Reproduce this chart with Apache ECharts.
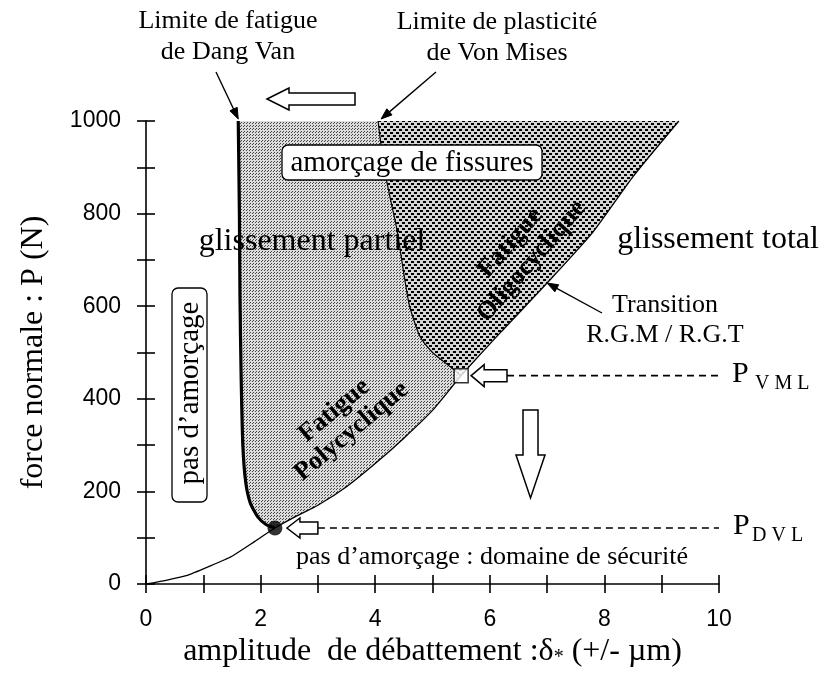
<!DOCTYPE html>
<html><head><meta charset="utf-8">
<script src="https://cdn.jsdelivr.net/npm/echarts@6/dist/echarts.min.js"></script>
<style>html,body{margin:0;padding:0;background:#fff}#c{width:828px;height:689px}</style>
</head><body><div id="c"></div>
<script>
// ---- data ----
const xLabelValues = [0, 2, 4, 6, 8, 10];
const yLabelValues = [0, 200, 400, 600, 800, 1000];
// transition R.G.M / R.G.T (partial slip / gross slip boundary)
const transitionX = [0, 0.35, 0.7, 1.1, 1.5, 1.9, 2.25, 2.6, 3.0, 3.5, 4.0, 4.5, 5.0, 5.5, 6.2, 7.0, 7.8, 8.5, 9.3];
const transitionP = [0, 8, 18, 38, 60, 92, 121, 145, 170, 210, 260, 315, 375, 450, 545, 650, 760, 880, 1000];
// Dang Van fatigue limit
const dangVanX = [2.25, 2.1, 1.95, 1.82, 1.74, 1.69, 1.66, 1.64, 1.63, 1.61];
const dangVanP = [121, 128, 145, 175, 220, 300, 450, 620, 800, 1000];
// Von Mises plasticity limit
const vonMisesX = [5.5, 5.4, 5.2, 5.0, 4.78, 4.6, 4.5, 4.38, 4.2, 4.1, 4.05];
const vonMisesP = [450, 460, 480, 500, 535, 600, 670, 765, 870, 950, 1000];
// characteristic points
const pointDVL = [2.25, 121];
const pointVML = [5.5, 450];
const dashStartDVL = 3.0;
const dashStartVML = 6.3;
const dashEnd = 10;

const SERIF = '"Liberation Serif","Times New Roman",serif';
const SANS = '"Liberation Sans",Arial,sans-serif';

function makePattern(type) {
  const c = document.createElement('canvas');
  const ctx = c.getContext('2d');
  if (type === 'fine') {
    c.width = 3; c.height = 3;
    ctx.fillStyle = '#dcdcdc'; ctx.fillRect(0, 0, 3, 3);
    ctx.fillStyle = '#444'; ctx.fillRect(0, 0, 1, 1); ctx.fillRect(1, 2, 1, 1);
  } else {
    c.width = 6; c.height = 6;
    ctx.fillStyle = '#d4d4d4'; ctx.fillRect(0, 0, 6, 6);
    ctx.fillStyle = '#000'; ctx.fillRect(0, 0, 3, 2); ctx.fillRect(3, 3, 3, 2);
  }
  return { image: c, repeat: 'repeat' };
}
const fineFill = makePattern('fine');
const coarseFill = makePattern('coarse');

function regionPoints(idx) {
  const pts = [];
  if (idx === 0) {
    for (let i = 0; i < dangVanX.length; i++) pts.push([dangVanX[i], dangVanP[i]]);
    for (let i = vonMisesX.length - 1; i >= 0; i--) pts.push([vonMisesX[i], vonMisesP[i]]);
    for (let i = transitionX.length - 1; i >= 0; i--)
      if (transitionX[i] < pointVML[0] && transitionX[i] > pointDVL[0]) pts.push([transitionX[i], transitionP[i]]);
  } else {
    for (let i = 0; i < vonMisesX.length; i++) pts.push([vonMisesX[i], vonMisesP[i]]);
    for (let i = transitionX.length - 1; i >= 0; i--)
      if (transitionX[i] >= pointVML[0]) pts.push([transitionX[i], transitionP[i]]);
  }
  return pts;
}

const chart = echarts.init(document.getElementById('c'), null, { renderer: 'canvas' });

const commonX = { type: 'value', min: 0, max: 10, interval: 1, splitLine: { show: false } };
const commonY = { type: 'value', min: 0, max: 1000, interval: 100, splitLine: { show: false } };
const axLine = { show: true, lineStyle: { color: '#000', width: 1.6 } };

chart.setOption({
  animation: false,
  backgroundColor: '#fff',
  grid: { left: 146, right: 109, top: 121, bottom: 105 },
  xAxis: [
    Object.assign({}, commonX, {
      position: 'bottom',
      axisLine: axLine,
      axisTick: { show: true, inside: false, length: 9, lineStyle: { color: '#000', width: 1.6 } },
      axisLabel: { margin: 24, fontFamily: SANS, fontSize: 23, color: '#000',
        formatter: v => xLabelValues.includes(v) ? String(v) : '' },
      name: 'amplitude  de débattement :δ{s|*} (+/- µm)',
      nameLocation: 'middle', nameGap: 48,
      nameTextStyle: { fontFamily: SERIF, fontSize: 32, color: '#000',
        rich: { s: { fontFamily: SERIF, fontSize: 20, color: '#000', padding: [12, 0, 0, 0] } } }
    }),
    Object.assign({}, commonX, {
      position: 'bottom',
      axisLine: { show: false },
      axisTick: { show: true, inside: true, length: 9, lineStyle: { color: '#000', width: 1.6 } },
      axisLabel: { show: false }
    })
  ],
  yAxis: [
    Object.assign({}, commonY, {
      position: 'left',
      axisLine: axLine,
      axisTick: { show: true, inside: false, length: 9, lineStyle: { color: '#000', width: 1.6 } },
      axisLabel: { margin: 25, fontFamily: SANS, fontSize: 23, color: '#000',
        formatter: v => yLabelValues.includes(v) ? String(v) : '' },
      name: 'force normale : P (N)',
      nameLocation: 'middle', nameGap: 96,
      nameTextStyle: { fontFamily: SERIF, fontSize: 32, color: '#000' }
    }),
    Object.assign({}, commonY, {
      position: 'left',
      axisLine: { show: false },
      axisTick: { show: true, inside: true, length: 9, lineStyle: { color: '#000', width: 1.6 } },
      axisLabel: { show: false }
    })
  ],
  series: [
    {
      type: 'custom', silent: true, z: 1,
      data: [[0, 0], [1, 0]],
      renderItem: function (params, api) {
        const pts = regionPoints(params.dataIndex).map(p => api.coord(p));
        return { type: 'polygon', shape: { points: pts },
          style: { fill: params.dataIndex === 0 ? fineFill : coarseFill, stroke: null } };
      }
    },
    { type: 'line', silent: true, z: 3, showSymbol: false, symbol: 'none', smooth: 0.2,
      data: transitionX.map((x, i) => [x, transitionP[i]]),
      lineStyle: { color: '#000', width: 1.3 } },
    { type: 'line', silent: true, z: 3, showSymbol: false, symbol: 'none', smooth: 0.2,
      data: dangVanX.map((x, i) => [x, dangVanP[i]]),
      lineStyle: { color: '#000', width: 3.2 } },
    { type: 'line', silent: true, z: 3, showSymbol: false, symbol: 'none', smooth: 0.2,
      data: vonMisesX.map((x, i) => [x, vonMisesP[i]]),
      lineStyle: { color: '#000', width: 1.2 } },
    { type: 'line', silent: true, z: 3, showSymbol: false, symbol: 'none',
      data: [[dashStartVML, pointVML[1]], [dashEnd, pointVML[1]]],
      lineStyle: { color: '#000', width: 1.6, type: [7, 5] } },
    { type: 'line', silent: true, z: 3, showSymbol: false, symbol: 'none',
      data: [[dashStartDVL, pointDVL[1]], [dashEnd, pointDVL[1]]],
      lineStyle: { color: '#000', width: 1.6, type: [7, 5] } },
    { type: 'scatter', silent: true, z: 10, data: [pointDVL], symbol: 'circle', symbolSize: 15,
      itemStyle: { color: '#000' } },
    { type: 'scatter', silent: true, z: 10, data: [pointVML], symbol: 'rect', symbolSize: 14,
      itemStyle: { color: '#fff', borderColor: '#000', borderWidth: 1.5 } }
  ]
});

// ---- annotations ----
const px = p => chart.convertToPixel({ gridIndex: 0 }, p);
const G = [];
function text(t, x, y, font, extra) {
  const base = { text: t, x: 0, y: 0, font: font, fill: '#000', textAlign: 'center', textVerticalAlign: 'middle' };
  const el = Object.assign({ type: 'text', z: 100, x: x, y: y }, extra || {});
  el.style = Object.assign(base, (extra && extra.style) || {});
  G.push(el);
}
function hollowArrowLeft(tx, ty, L, hl, hh, sh) {
  G.push({ type: 'polygon', z: 90, shape: { points: [
    [tx, ty], [tx + hl, ty - hh], [tx + hl, ty - sh], [tx + L, ty - sh], [tx + L, ty + sh], [tx + hl, ty + sh], [tx + hl, ty + hh]] },
    style: { fill: '#fff', stroke: '#000', lineWidth: 1.5 } });
}
function hollowArrowDown(cx, top, tip, headStart, hw, sw) {
  G.push({ type: 'polygon', z: 90, shape: { points: [
    [cx - sw, top], [cx + sw, top], [cx + sw, headStart], [cx + hw, headStart], [cx, tip], [cx - hw, headStart], [cx - sw, headStart]] },
    style: { fill: '#fff', stroke: '#000', lineWidth: 1.5 } });
}
function pointerArrow(x1, y1, x2, y2) {
  const a = Math.atan2(y2 - y1, x2 - x1), hl = 11, hw = 4;
  const bx = x2 - hl * Math.cos(a), by = y2 - hl * Math.sin(a);
  G.push({ type: 'line', z: 90, shape: { x1: x1, y1: y1, x2: bx, y2: by }, style: { stroke: '#000', lineWidth: 1.4 } });
  G.push({ type: 'polygon', z: 90, shape: { points: [[x2, y2],
    [bx + hw * Math.sin(a), by - hw * Math.cos(a)], [bx - hw * Math.sin(a), by + hw * Math.cos(a)]] },
    style: { fill: '#000', stroke: '#000', lineWidth: 1 } });
}

const F26 = '26px ' + SERIF, F32 = '32px ' + SERIF, F29 = '29px ' + SERIF;
text('Limite de fatigue\nde Dang Van', 228, 37, F26, { style: { lineHeight: 31 } });
text('Limite de plasticité\nde Von Mises', 497, 38, F26, { style: { lineHeight: 31 } });
const dvTop = px([dangVanX[dangVanX.length - 1], dangVanP[dangVanP.length - 1]]);
const vmTop = px([vonMisesX[vonMisesX.length - 1], vonMisesP[vonMisesP.length - 1]]);
pointerArrow(216, 72, dvTop[0], dvTop[1] - 2);
pointerArrow(436, 72, vmTop[0] + 3, vmTop[1] - 2);
hollowArrowLeft(267, 99, 88, 22, 11, 6);

// boxed labels
G.push({ type: 'rect', z: 95, shape: { x: 282, y: 145, width: 260, height: 35, r: 6 },
  style: { fill: '#fff', stroke: '#000', lineWidth: 1.3 } });
text('amorçage de fissures', 412, 163, F29);
G.push({ type: 'rect', z: 95, shape: { x: 172, y: 288, width: 35, height: 214, r: 6 },
  style: { fill: '#fff', stroke: '#000', lineWidth: 1.3 } });
text('pas d’amorçage', 190, 393, F29, { rotation: Math.PI / 2 });

text('glissement partiel', 312, 242, F32);
text('glissement total', 718, 240, F32);

text('Fatigue\nPolycyclique', 343, 421, 'bold 26px ' + SERIF, { rotation: 40 * Math.PI / 180, style: { lineHeight: 27 } });
text('Fatigue\nOligocyclique', 521, 252, 'bold 26px ' + SERIF, { rotation: 49 * Math.PI / 180, style: { lineHeight: 28 } });

text('Transition\nR.G.M / R.G.T', 665, 320, F26, { style: { lineHeight: 30 } });
const trPt = px([7.0, 650]);
pointerArrow(602, 313, trPt[0], trPt[1]);

text('pas d’amorçage : domaine de sécurité', 492, 557, F26);

// P labels & hollow arrows tied to the characteristic points
const vml = px(pointVML), dvl = px(pointDVL);
hollowArrowLeft(vml[0] + 10, vml[1], px([dashStartVML, 0])[0] - vml[0] - 10, 13, 11, 6);
hollowArrowLeft(dvl[0] + 12, dvl[1], px([dashStartDVL, 0])[0] - dvl[0] - 12, 13, 10, 6);
text('P', 732, vml[1] - 2, '30px ' + SERIF, { style: { textAlign: 'left' } });
text('V M L', 755, vml[1] + 8, '20px ' + SERIF, { style: { textAlign: 'left' } });
text('P', 733, dvl[1] - 2, '30px ' + SERIF, { style: { textAlign: 'left' } });
text('D V L', 752, dvl[1] + 8, '20px ' + SERIF, { style: { textAlign: 'left' } });

hollowArrowDown(530.5, 410, 498, 455, 14.5, 7.5);

chart.setOption({ graphic: { elements: G } });
</script>
</body></html>
